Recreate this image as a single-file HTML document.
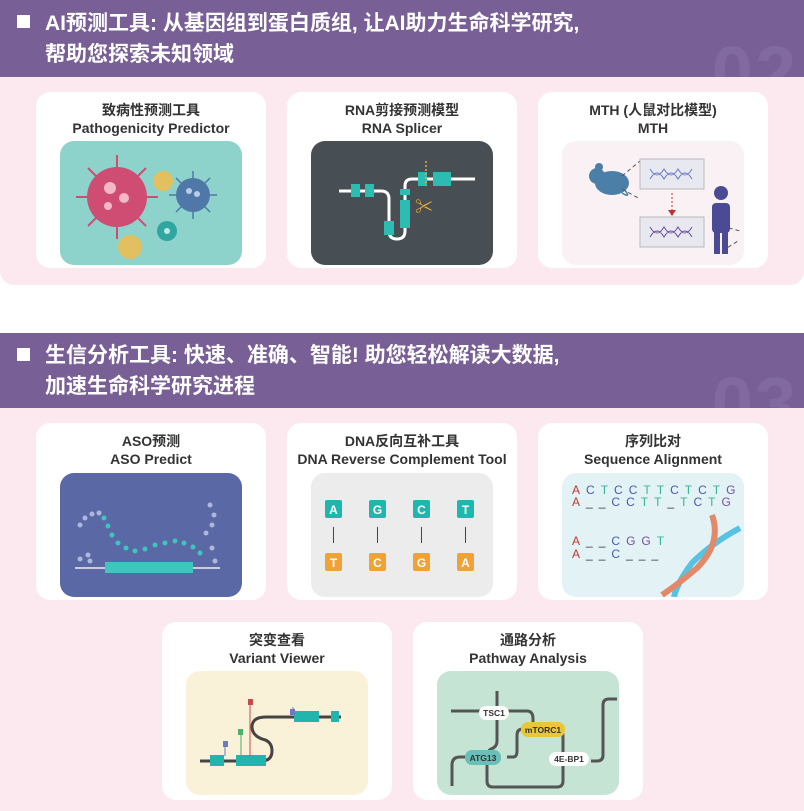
<!DOCTYPE html>
<html><head><meta charset="utf-8"><style>
*{margin:0;padding:0;box-sizing:border-box}
body{width:804px;height:811px;background:#fff;position:relative;overflow:hidden;font-family:"Liberation Sans","Noto Sans CJK SC",sans-serif}
.hdr{position:absolute;left:0;width:804px;background:#785f96;color:#fff;font-weight:bold;font-size:21px;line-height:31px;padding-left:45px;overflow:hidden}
.hdr .sq{position:absolute;left:17px;width:13px;height:13px;background:#fff}
.hdr .num{position:absolute;right:6px;font-size:74px;line-height:74px;color:#816a9f;font-weight:bold;letter-spacing:2px}
.body{position:absolute;left:0;width:804px;background:#fbe9ef}
.card{position:absolute;width:230px;background:#fff;border-radius:14px;text-align:center;font-weight:bold;color:#333;font-size:14px;line-height:18px;padding-top:9px}
.img{position:absolute;left:24px;width:182px;height:124px;border-radius:14px;overflow:hidden}
.img svg{display:block}
</style></head><body>

<div class="hdr" style="top:0;height:77px;padding-top:8px">
<div class="sq" style="top:15px"></div>
AI预测工具: 从基因组到蛋白质组, 让AI助力生命科学研究,<br>帮助您探索未知领域
<div class="num" style="top:36px">02</div></div>
<div class="body" style="top:77px;height:208px;border-radius:0 0 14px 14px"></div>

<div class="hdr" style="top:333px;height:75px;padding-top:7px">
<div class="sq" style="top:15px"></div>
生信分析工具: 快速、准确、智能! 助您轻松解读大数据,<br>加速生命科学研究进程
<div class="num" style="top:34px">03</div></div>
<div class="body" style="top:408px;height:403px"></div>

<!-- Row1 -->
<div class="card" style="left:36px;top:92px;height:176px">致病性预测工具<br>Pathogenicity Predictor
<div class="img" style="top:49px;background:#8dd3cc"><svg width="182" height="124">
<g stroke="#cf4d72" stroke-width="2"><line x1="57" y1="14" x2="57" y2="98"/><line x1="16" y1="56" x2="98" y2="56"/><line x1="28" y1="27" x2="86" y2="85"/><line x1="86" y1="27" x2="28" y2="85"/></g>
<circle cx="57" cy="56" r="30" fill="#cf4d72"/><circle cx="50" cy="47" r="6" fill="#f3b7c7"/><circle cx="64" cy="57" r="5" fill="#f3b7c7"/><circle cx="48" cy="65" r="4" fill="#f3b7c7"/>
<g stroke="#4f78a8" stroke-width="1.5"><line x1="133" y1="30" x2="133" y2="78"/><line x1="109" y1="54" x2="157" y2="54"/><line x1="116" y1="37" x2="150" y2="71"/><line x1="150" y1="37" x2="116" y2="71"/></g>
<circle cx="133" cy="54" r="17" fill="#4f78a8"/><circle cx="129" cy="50" r="3" fill="#b9cde6"/><circle cx="137" cy="53" r="3" fill="#b9cde6"/>
<circle cx="107" cy="90" r="10" fill="#2fa7a0"/><circle cx="107" cy="90" r="3" fill="#bde8e4"/>
<circle cx="103" cy="40" r="10" fill="#e2c05f"/><circle cx="70" cy="106" r="12" fill="#e2c05f"/>
</svg></div></div>

<div class="card" style="left:287px;top:92px;height:176px">RNA剪接预测模型<br>RNA Splicer
<div class="img" style="top:49px;background:#474f55"><svg width="182" height="124">
<path d="M28 50 H70 Q78 50 78 58 V90 Q78 98 86 98 Q94 98 94 90 V45 Q94 38 101 38 H164" fill="none" stroke="#fff" stroke-width="3"/>
<g fill="#2cbcb2"><rect x="40" y="43" width="9" height="13"/><rect x="54" y="43" width="9" height="13"/><rect x="73" y="80" width="10" height="14"/><rect x="89" y="59" width="10" height="28"/><rect x="89" y="48" width="10" height="6"/><rect x="107" y="31" width="9" height="14"/><rect x="122" y="31" width="18" height="14"/></g>
<line x1="115" y1="20" x2="115" y2="45" stroke="#e6a93a" stroke-width="1.5" stroke-dasharray="2,2"/>
<text x="113" y="72" font-size="18" fill="#e6a93a" text-anchor="middle">✂</text>
</svg></div></div>

<div class="card" style="left:538px;top:92px;height:176px">MTH (人鼠对比模型)<br>MTH
<div class="img" style="top:49px;background:#f9f1f3"><svg width="182" height="124">
<ellipse cx="50" cy="42" rx="17" ry="12" fill="#4c7fa8"/><circle cx="35" cy="35" r="8" fill="#4c7fa8"/><circle cx="37" cy="26" r="4" fill="#4c7fa8"/>
<path d="M62 48 Q70 58 60 52" stroke="#4c7fa8" fill="none" stroke-width="1.5"/>
<g stroke="#555" stroke-dasharray="4,3"><line x1="60" y1="35" x2="78" y2="20"/><line x1="60" y1="48" x2="78" y2="58"/><line x1="160" y1="85" x2="178" y2="90"/><line x1="160" y1="110" x2="176" y2="100"/></g>
<rect x="78" y="18" width="64" height="30" fill="#e8e9f0" stroke="#bbb"/><rect x="78" y="76" width="64" height="30" fill="#e8e9f0" stroke="#bbb"/>
<path d="M88 28 Q95 40 102 28 Q109 40 116 28 Q123 40 130 28 M88 38 Q95 26 102 38 Q109 26 116 38 Q123 26 130 38" stroke="#6a7ac0" fill="none"/>
<path d="M88 86 Q95 98 102 86 Q109 98 116 86 Q123 98 130 86 M88 96 Q95 84 102 96 Q109 84 116 96 Q123 84 130 96" stroke="#6a4a9a" fill="none"/>
<line x1="110" y1="52" x2="110" y2="70" stroke="#b33" stroke-dasharray="2,2"/><path d="M106 69 L114 69 L110 75Z" fill="#b33"/>
<circle cx="159" cy="52" r="7" fill="#4b4a94"/><rect x="150" y="62" width="18" height="30" rx="4" fill="#4b4a94"/><rect x="152" y="88" width="6" height="25" fill="#4b4a94"/><rect x="160" y="88" width="6" height="25" fill="#4b4a94"/>
</svg></div></div>

<!-- Row2 -->
<div class="card" style="left:36px;top:423px;height:177px">ASO预测<br>ASO Predict
<div class="img" style="top:50px;background:#5a68a6"><svg width="182" height="124">
<g fill="#aeb7dc"><circle cx="20" cy="52" r="2.5"/><circle cx="25" cy="45" r="2.5"/><circle cx="32" cy="41" r="2.5"/><circle cx="39" cy="40" r="2.5"/><circle cx="28" cy="82" r="2.5"/><circle cx="20" cy="86" r="2.5"/><circle cx="30" cy="88" r="2.5"/><circle cx="150" cy="32" r="2.5"/><circle cx="154" cy="42" r="2.5"/><circle cx="152" cy="52" r="2.5"/><circle cx="146" cy="60" r="2.5"/><circle cx="152" cy="75" r="2.5"/><circle cx="155" cy="88" r="2.5"/></g>
<g fill="#3fc5bb"><circle cx="44" cy="45" r="2.5"/><circle cx="48" cy="53" r="2.5"/><circle cx="52" cy="62" r="2.5"/><circle cx="58" cy="70" r="2.5"/><circle cx="66" cy="75" r="2.5"/><circle cx="75" cy="78" r="2.5"/><circle cx="85" cy="76" r="2.5"/><circle cx="95" cy="72" r="2.5"/><circle cx="105" cy="70" r="2.5"/><circle cx="115" cy="68" r="2.5"/><circle cx="124" cy="70" r="2.5"/><circle cx="133" cy="74" r="2.5"/><circle cx="140" cy="80" r="2.5"/></g>
<line x1="15" y1="95" x2="160" y2="95" stroke="#ccd" stroke-width="2"/><rect x="45" y="89" width="88" height="11" fill="#3fc5bb"/>
</svg></div></div>

<div class="card" style="left:287px;top:423px;height:177px">DNA反向互补工具<br>DNA Reverse Complement Tool
<div class="img" style="top:50px;background:#ececec"><svg width="182" height="124" font-family="Liberation Sans" font-size="12" fill="#fff" text-anchor="middle">
<g fill="#1fb7ad"><rect x="14" y="27" width="17" height="18" rx="2"/><rect x="58" y="27" width="17" height="18" rx="2"/><rect x="102" y="27" width="17" height="18" rx="2"/><rect x="146" y="27" width="17" height="18" rx="2"/></g>
<g fill="#efa236"><rect x="14" y="80" width="17" height="18" rx="2"/><rect x="58" y="80" width="17" height="18" rx="2"/><rect x="102" y="80" width="17" height="18" rx="2"/><rect x="146" y="80" width="17" height="18" rx="2"/></g>
<text x="22.5" y="41">A</text><text x="66.5" y="41">G</text><text x="110.5" y="41">C</text><text x="154.5" y="41">T</text>
<text x="22.5" y="94">T</text><text x="66.5" y="94">C</text><text x="110.5" y="94">G</text><text x="154.5" y="94">A</text>
<g stroke="#444"><line x1="22.5" y1="54" x2="22.5" y2="70"/><line x1="66.5" y1="54" x2="66.5" y2="70"/><line x1="110.5" y1="54" x2="110.5" y2="70"/><line x1="154.5" y1="54" x2="154.5" y2="70"/></g>
</svg></div></div>

<div class="card" style="left:538px;top:423px;height:177px">序列比对<br>Sequence Alignment
<div class="img" style="top:50px;background:#e2f2f5"><svg width="182" height="124" font-family="Liberation Sans" font-size="12" font-weight="normal">
<path d="M178 55 Q150 70 130 90 Q115 110 112 124" stroke="#58c3e0" stroke-width="6" fill="none"/>
<path d="M150 42 Q160 70 135 95 Q115 112 100 122" stroke="#e08a6a" stroke-width="6" fill="none"/>
<g font-weight="normal">
<text x="10" y="21"><tspan fill="#c0392b">A</tspan><tspan fill="#4a5ab0" dx="6">C</tspan><tspan fill="#3bb39a" dx="6">T</tspan><tspan fill="#4a5ab0" dx="6">C</tspan><tspan fill="#4a5ab0" dx="6">C</tspan><tspan fill="#3bb39a" dx="6">T</tspan><tspan fill="#3bb39a" dx="6">T</tspan><tspan fill="#4a5ab0" dx="6">C</tspan><tspan fill="#3bb39a" dx="6">T</tspan><tspan fill="#4a5ab0" dx="6">C</tspan><tspan fill="#3bb39a" dx="6">T</tspan><tspan fill="#7a4fa0" dx="6">G</tspan></text>
<text x="10" y="33"><tspan fill="#c0392b">A</tspan><tspan fill="#333" dx="6">_</tspan><tspan fill="#333" dx="6">_</tspan><tspan fill="#4a5ab0" dx="6">C</tspan><tspan fill="#4a5ab0" dx="6">C</tspan><tspan fill="#3bb39a" dx="6">T</tspan><tspan fill="#3bb39a" dx="6">T</tspan><tspan fill="#333" dx="6">_</tspan><tspan fill="#3bb39a" dx="6">T</tspan><tspan fill="#4a5ab0" dx="6">C</tspan><tspan fill="#3bb39a" dx="6">T</tspan><tspan fill="#7a4fa0" dx="6">G</tspan></text>
<text x="10" y="72"><tspan fill="#c0392b">A</tspan><tspan fill="#333" dx="6">_</tspan><tspan fill="#333" dx="6">_</tspan><tspan fill="#4a5ab0" dx="6">C</tspan><tspan fill="#7a4fa0" dx="6">G</tspan><tspan fill="#7a4fa0" dx="6">G</tspan><tspan fill="#3bb39a" dx="6">T</tspan></text>
<text x="10" y="85"><tspan fill="#c0392b">A</tspan><tspan fill="#333" dx="6">_</tspan><tspan fill="#333" dx="6">_</tspan><tspan fill="#4a5ab0" dx="6">C</tspan><tspan fill="#333" dx="6">_</tspan><tspan fill="#333" dx="6">_</tspan><tspan fill="#333" dx="6">_</tspan></text>
</g></svg></div></div>

<!-- Row3 -->
<div class="card" style="left:162px;top:622px;height:178px">突变查看<br>Variant Viewer
<div class="img" style="top:49px;background:#faf1d9"><svg width="182" height="124">
<path d="M14 90 H75 Q86 90 86 80 Q86 70 76 68 Q66 64 66 56 Q66 46 80 46 H155" fill="none" stroke="#444" stroke-width="3"/>
<rect x="24" y="84" width="14" height="11" fill="#22b5ad"/><rect x="50" y="84" width="30" height="11" fill="#22b5ad"/><rect x="108" y="40" width="25" height="11" fill="#22b5ad"/><rect x="145" y="40" width="8" height="11" fill="#22b5ad"/>
<line x1="39" y1="75" x2="39" y2="85" stroke="#6a7ac0"/><rect x="37" y="70" width="5" height="6" fill="#6a7ac0"/>
<line x1="55" y1="63" x2="55" y2="85" stroke="#4caf6a"/><rect x="52" y="58" width="5" height="6" fill="#4caf6a"/>
<line x1="64" y1="30" x2="64" y2="85" stroke="#c94a4a"/><rect x="62" y="28" width="5" height="6" fill="#c94a4a"/>
<line x1="107" y1="44" x2="107" y2="36" stroke="#6a7ac0"/><rect x="104" y="38" width="5" height="6" fill="#6a7ac0"/>
</svg></div></div>

<div class="card" style="left:413px;top:622px;height:178px">通路分析<br>Pathway Analysis
<div class="img" style="top:49px;background:#c5e4d3"><svg width="182" height="124" font-family="Liberation Sans" font-size="8.5" text-anchor="middle" fill="#333">
<g fill="none" stroke="#555" stroke-width="3">
<path d="M14 40 H90 Q96 40 96 48 V56"/><path d="M60 20 V70 Q60 76 54 78 Q50 80 50 86 V110 Q50 116 56 116 H120 Q126 116 126 110 V65 Q126 58 118 58 H95"/>
<path d="M15 115 V94 Q15 86 23 86 H40"/><path d="M70 86 H76 Q80 86 80 80 V64 Q80 58 86 58 H95"/><path d="M154 90 H160 Q166 90 166 84 V34 Q166 28 172 28 H180"/></g>
<rect x="42" y="35" width="30" height="14" rx="7" fill="#fff"/><text x="57" y="45">TSC1</text>
<rect x="84" y="51" width="44" height="15" rx="7" fill="#e8c83a"/><text x="106" y="62">mTORC1</text>
<rect x="28" y="79" width="36" height="15" rx="7" fill="#68c0b8"/><text x="46" y="90">ATG13</text>
<rect x="112" y="81" width="40" height="14" rx="7" fill="#fff"/><text x="132" y="91">4E-BP1</text>
</svg></div></div>

</body></html>
